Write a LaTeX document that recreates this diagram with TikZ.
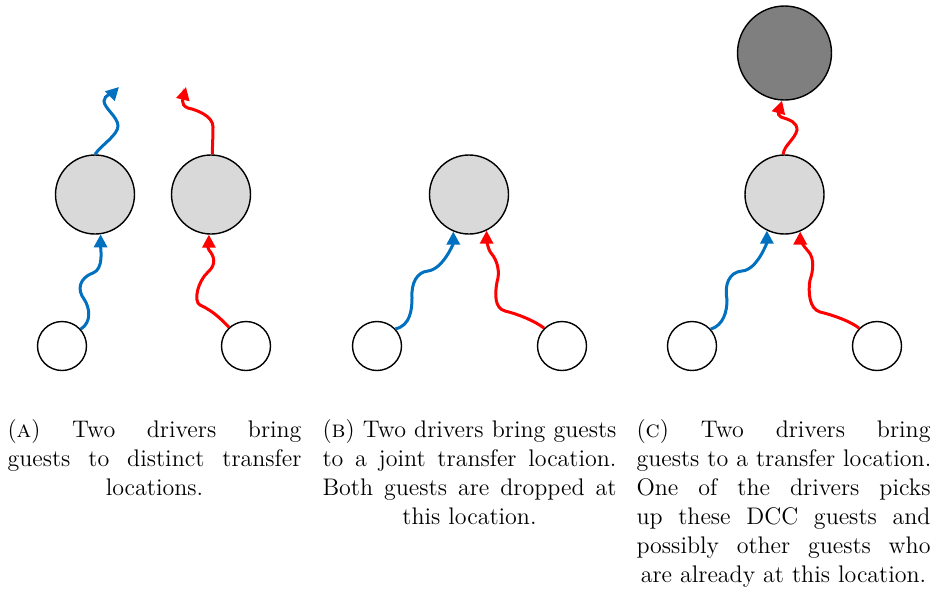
\documentclass[tikz,border=0pt]{standalone}
\usepackage{tikz}
\usetikzlibrary{arrows.meta}
\definecolor{drvblue}{HTML}{0070C0}
\definecolor{drvred}{HTML}{FF0000}
\definecolor{tlgray}{HTML}{D9D9D9}
\definecolor{tldark}{HTML}{7F7F7F}
\tikzset{
  transfer/.style={
    circle, draw=black, fill=tlgray, line width=0.7pt,
    minimum size=39.5pt, inner sep=0pt,
  },
  pickup/.style={transfer, fill=tldark, minimum size=47pt},
  origin/.style={
    circle, draw=black, fill=white, line width=0.7pt,
    minimum size=24.5pt, inner sep=0pt,
  },
  drive/.style={
    line width=1.5pt, -{Triangle[length=6.5pt,width=6.5pt]},
  },
  bluedrive/.style={drive, draw=drvblue},
  reddrive/.style={drive, draw=drvred},
  subcap/.style={
    text width=147pt, inner sep=0pt, anchor=north, align=center,
    font=\fontsize{12}{14.5}\selectfont,
  }
}
% one justified caption line
\newcommand{\jline}[1]{\makebox[147pt][s]{\spaceskip=0.333em plus 1fil #1}}

\begin{document}
\begin{tikzpicture}[x=0.5pt, y=-0.5pt]
  \useasboundingbox (0,0) rectangle (936,591);

  % (a) distinct transfer locations
  \node[transfer] (ga1) at (95,194.5) {};
  \node[transfer] (ga2) at (211,194.5) {};
  \node[origin] (sa1) at (62,346) {};
  \node[origin] (sa2) at (246,346) {};
  \coordinate (ta1) at (119,87);
  \coordinate (ta2) at (186,87);

  \draw[bluedrive] (sa1.42) .. controls +(11,-7) and +(6,9) .. (84,299)
    .. controls +(-7,-9) and +(-14,5) .. (93,273)
    .. controls +(11,-4) and +(0,14) .. (ga1.-82);
  \draw[reddrive] (sa2.132) .. controls +(-9,-9) and +(13,6) .. (200,305)
    .. controls +(-7,-4) and +(-10,9) .. (208,272)
    .. controls +(9,-8) and +(5,6) .. (209,250)
    .. controls +(-3,-4) and +(0,6) .. (ga2.-93);
  \draw[bluedrive] (ga1.90) .. controls +(6,-9) and +(0,9) .. (118,126)
    .. controls +(0,-9) and +(0,7) .. (104,101)
    .. controls +(0,-6) and +(-5,5) .. (ta1);
  \draw[reddrive] (ga2.88) .. controls +(0,-11) and +(0,11) .. (213,127)
    .. controls +(0,-11) and +(9,2) .. (188,108)
    .. controls +(-9,-3) and +(-2,8) .. (ta2);

  % (b) joint transfer location
  \node[transfer] (gb) at (469,194.5) {};
  \node[origin] (sb1) at (377,346) {};
  \node[origin] (sb2) at (562,346) {};

  \draw[bluedrive] (sb1.43) .. controls +(15,-3) and +(0,11) .. (412,298)
    .. controls +(-1,-15) and +(-11,1) .. (428,271)
    .. controls +(15,-2) and +(0,12) .. (gb.-113);
  \draw[reddrive] (sb2.135) .. controls +(-9,-7) and +(13,3) .. (505,311)
    .. controls +(-11,-3) and +(-2,11) .. (497,282)
    .. controls +(3,-9) and +(7,8) .. (491,253)
    .. controls +(-4,-5) and +(0,6) .. (gb.-64);

  % (c) pick-up at the transfer location
  \node[pickup] (dc) at (784.5,53) {};
  \node[transfer] (gc) at (784.5,194.5) {};
  \node[origin] (sc1) at (692,346) {};
  \node[origin] (sc2) at (877,346) {};

  \draw[reddrive] (gc.92) .. controls +(1,-9) and +(-2,9) .. (797,130)
    .. controls +(0,-8) and +(9,3) .. (781,117)
    .. controls +(-5,-2) and +(-2,7) .. (dc.-93);
  \draw[bluedrive] (sc1.42) .. controls +(13,-4) and +(0,11) .. (727,300)
    .. controls +(-3,-15) and +(-13,1) .. (742,271)
    .. controls +(15,-1) and +(0,12) .. (gc.-116);
  \draw[reddrive] (sc2.135) .. controls +(-9,-7) and +(13,3) .. (820,312)
    .. controls +(-11,-3) and +(-2,11) .. (810,280)
    .. controls +(3,-8) and +(7,7) .. (808,251)
    .. controls +(-5,-5) and +(0,7) .. (gc.-67);

  % captions
  \node[subcap] (capa) at (154.5,419) {%
    \jline{(\textsc{a}) Two drivers bring}\\
    \jline{guests to distinct transfer}\\
    locations.};
  \node[subcap] (capb) at (469.5,419) {%
    \jline{(\textsc{b}) Two drivers bring guests}\\
    \jline{to a joint transfer location.}\\
    \jline{Both guests are dropped at}\\
    this location.};
  \node[subcap] (capc) at (783.5,419) {%
    \jline{(\textsc{c}) Two drivers bring}\\
    \jline{guests to a transfer location.}\\
    \jline{One of the drivers picks}\\
    \jline{up these DCC guests and}\\
    \jline{possibly other guests who}\\
    are already at this location.};
\end{tikzpicture}
\end{document}
